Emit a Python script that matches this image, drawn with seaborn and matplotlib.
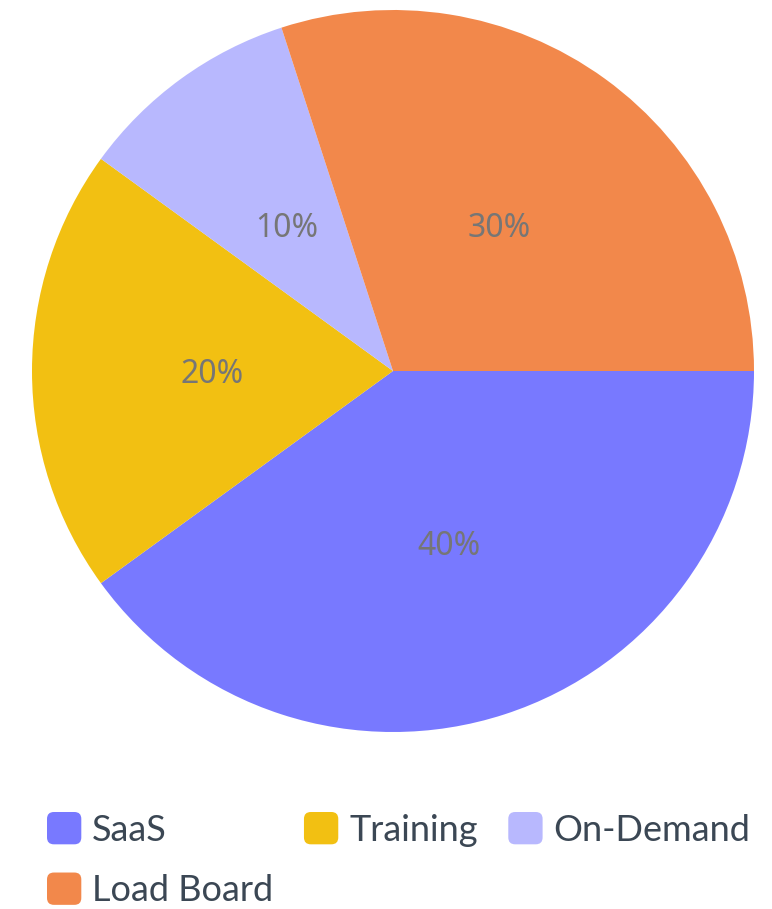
import matplotlib.pyplot as plt
import seaborn as sns
from matplotlib.patches import FancyBboxPatch, Patch
from matplotlib.legend_handler import HandlerPatch

# datos del gráfico
labels = ['SaaS', 'Training', 'On-Demand', 'Load Board']
values = [40, 20, 10, 30]
colors = ['#7879FF', '#F2C012', '#B8B8FE', '#F2884B']

sns.set_theme(style='white')
plt.rcParams['font.family'] = ['Lato', 'DejaVu Sans']


class RoundBox(HandlerPatch):
    def create_artists(self, legend, orig_handle, xdescent, ydescent,
                       width, height, fontsize, trans):
        p = FancyBboxPatch((-xdescent, -ydescent), width, height,
                           boxstyle='round,pad=0,rounding_size=%f' % (width * 0.2),
                           facecolor=orig_handle.get_facecolor(),
                           edgecolor='none', transform=trans)
        return [p]


fig = plt.figure(figsize=(7.72, 9.09), dpi=100)
ax = fig.add_axes([32 / 772, (909 - 732) / 909, 722 / 772, 722 / 909])

wedges, texts, autotexts = ax.pie(
    values, colors=sns.color_palette(colors), startangle=0, counterclock=False,
    autopct='%d%%', pctdistance=0.5, radius=1,
    wedgeprops={'linewidth': 0},
    textprops={'fontsize': 23, 'color': '#767676', 'family': ['Noto Sans', 'DejaVu Sans']})
for t in autotexts:
    t.set_va('center_baseline')
ax.set_xlim(-1, 1)
ax.set_ylim(-1, 1)
ax.set_aspect('auto')
ax.axis('off')

# orden para llenar filas: SaaS, Training, On-Demand / Load Board
order = [0, 3, 1, 2]
handles = [Patch(facecolor=colors[i]) for i in order]
fig.legend(handles, [labels[i] for i in order], ncol=3,
           loc='upper left', bbox_to_anchor=(47 / 772, 1 - 812 / 909),
           frameon=False, fontsize=26, labelcolor='#3B4754',
           handler_map={Patch: RoundBox()},
           handlelength=0.95, handleheight=1.0, handletextpad=0.3,
           columnspacing=0.85, labelspacing=0.72, borderpad=0, borderaxespad=0)

fig.savefig('out.png', dpi=100)
